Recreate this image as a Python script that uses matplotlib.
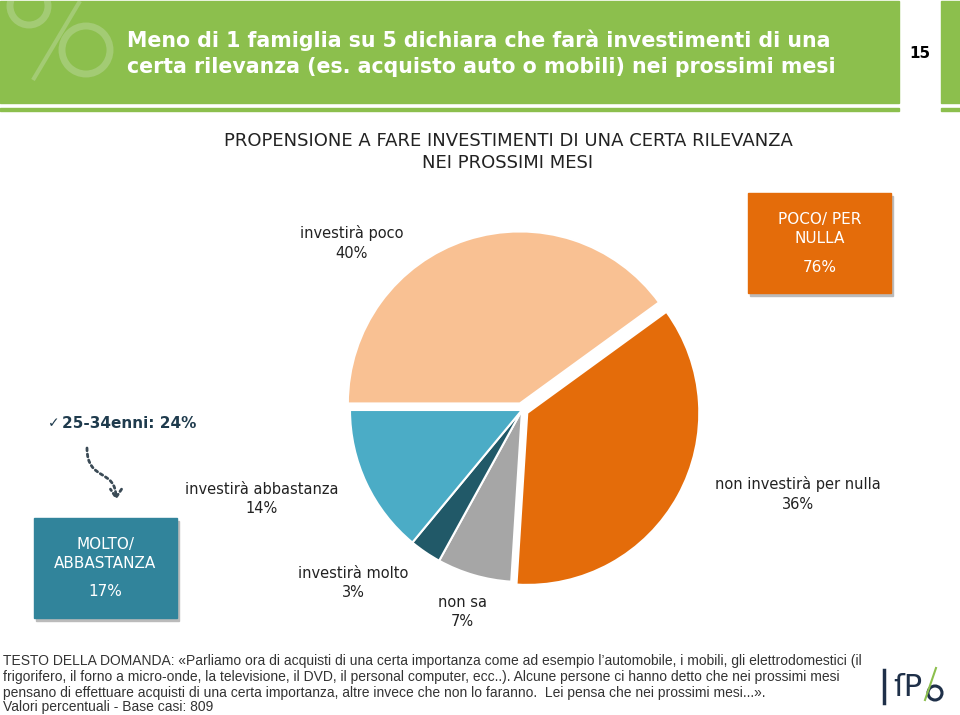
import matplotlib
matplotlib.use('Agg')
import matplotlib.pyplot as plt
from matplotlib.patches import Rectangle, Circle, FancyArrowPatch
from matplotlib.path import Path

# dati
labels = ['investirà poco', 'non investirà per nulla', 'non sa', 'investirà molto', 'investirà abbastanza']
values = [40, 36, 7, 3, 14]
colors = ['#F9C193', '#E46C0A', '#A6A6A6', '#215968', '#4BACC6']
explode = [0.04, 0.035, 0, 0, 0]

box_labels = ['POCO/ PER\nNULLA', 'MOLTO/\nABBASTANZA']
box_values = [76, 17]
sub_label = '25-34enni'
sub_value = 24

title = ('Meno di 1 famiglia su 5 dichiara che farà investimenti di una\n'
         'certa rilevanza (es. acquisto auto o mobili) nei prossimi mesi')
subtitle = 'PROPENSIONE A FARE INVESTIMENTI DI UNA CERTA RILEVANZA\nNEI PROSSIMI MESI'
footer = ('TESTO DELLA DOMANDA: «Parliamo ora di acquisti di una certa importanza come ad esempio l\u2019automobile, i mobili, gli elettrodomestici (il\n'
          'frigorifero, il forno a micro-onde, la televisione, il DVD, il personal computer, ecc..). Alcune persone ci hanno detto che nei prossimi mesi\n'
          'pensano di effettuare acquisti di una certa importanza, altre invece che non lo faranno.  Lei pensa che nei prossimi mesi...».')
base = 'Valori percentuali - Base casi: 809'

green = '#8CBF4D'

fig = plt.figure(figsize=(9.6, 7.15), dpi=100)

# sfondo in pixel
bg = fig.add_axes([0, 0, 1, 1])
bg.set_xlim(0, 960)
bg.set_ylim(715, 0)
bg.axis('off')

# intestazione verde
band = Rectangle((0, 1), 899, 102, color=green, zorder=1)
bg.add_patch(band)
bg.add_patch(Rectangle((0, 108), 899, 3, color=green, zorder=1))
bg.add_patch(Rectangle((941, 1), 19, 102, color=green, zorder=1))
bg.add_patch(Rectangle((941, 108), 19, 3, color=green, zorder=1))
# simbolo %
pc = '#A3CB74'
c1 = Circle((29, 6), 19, fill=False, lw=5, color=pc, zorder=2)
c2 = Circle((86, 50), 24, fill=False, lw=5, color=pc, zorder=2)
for c in (c1, c2):
    bg.add_patch(c)
    c.set_clip_path(band)
ln, = bg.plot([33, 80], [80, 1], color=pc, lw=3, zorder=2, solid_capstyle='butt')
ln.set_clip_path(band)

bg.text(127, 53, title, color='white', fontsize=14.8, fontweight='bold',
        va='center', ha='left', linespacing=1.4, zorder=3)
bg.text(920, 53, '15', color='black', fontsize=11, fontweight='bold', ha='center', va='center')

bg.text(508, 152, subtitle, color='#222222', fontsize=13, ha='center', va='center', linespacing=1.3)

# torta
pie_ax = fig.add_axes([(522 - 215) / 960, (715 - 410 - 215) / 715, 430 / 960, 430 / 715])
pie_ax.pie(values, colors=colors, explode=explode, startangle=180, counterclock=False,
           wedgeprops=dict(edgecolor='white', linewidth=1.5))
pie_ax.set_xlim(-1.25, 1.25)
pie_ax.set_ylim(-1.25, 1.25)
pie_ax.set_aspect('equal')
pie_ax.axis('off')

# etichette della torta
label_pos = [(352, 243), (798, 494), (462, 612), (353, 583), (262, 499)]
for lab, val, (x, y) in zip(labels, values, label_pos):
    bg.text(x, y, f'{lab}\n{val}%', ha='center', va='center', fontsize=10.5,
            color='#222222', linespacing=1.35)

# riquadri riassuntivi
box_pos = [(748, 193, '#E46C0A'), (34, 518, '#31849B')]
for lab, val, (x, y, col) in zip(box_labels, box_values, box_pos):
    bg.add_patch(Rectangle((x + 2, y + 3), 143, 100, color='#BBBBBB', zorder=1))
    bg.add_patch(Rectangle((x, y), 143, 100, color=col, zorder=2))
    bg.text(x + 71.5, y + 36, lab, ha='center', va='center', color='white',
            fontsize=11, linespacing=1.3, zorder=3)
    bg.text(x + 71.5, y + 74, f'{val}%', ha='center', va='center', color='white',
            fontsize=11, zorder=3)

bg.text(48, 423, '\u2713', ha='left', va='center', fontsize=10, color='#1F3B4D')
bg.text(62, 423, f'{sub_label}: {sub_value}%', ha='left', va='center', fontsize=11,
        fontweight='bold', color='#1F3B4D')
curve = Path([(87, 448), (87, 482), (116, 468), (116, 500)],
             [Path.MOVETO, Path.CURVE4, Path.CURVE4, Path.CURVE4])
arr = FancyArrowPatch(path=curve, arrowstyle='->,head_length=6,head_width=4',
                      linestyle=(0, (1, 1.2)), lw=2, color='#3A4A55')
bg.add_patch(arr)

# note
bg.text(3, 677, footer, ha='left', va='center', fontsize=10, color='#333333',
        family='Liberation Sans', linespacing=1.2)
bg.text(3, 707, base, ha='left', va='center', fontsize=10, color='#333333',
        family='Liberation Sans')

# logo
bg.plot([884, 884], [670, 703], color='#1F3049', lw=2.5)
bg.text(893, 687, 'ſP', ha='left', va='center', fontsize=22, color='#1F3049', family='DejaVu Sans')
bg.plot([925, 936], [700, 668], color=green, lw=1.5)
bg.add_patch(Circle((935, 693), 7, fill=False, lw=2.2, color='#1F3049'))

plt.savefig('out.png', dpi=100)
